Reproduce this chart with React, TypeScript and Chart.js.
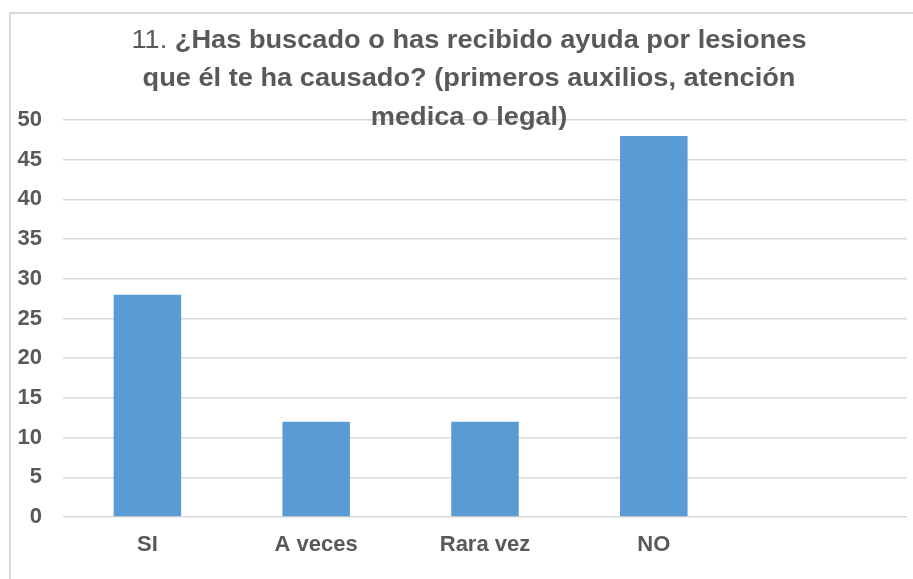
import React, { useEffect, useRef } from "react";
import { Chart, registerables } from "chart.js";

Chart.register(...registerables);

const categories = ["SI", "A veces", "Rara vez", "NO", ""];
const values = [28, 12, 12, 48, null];
const titlePrefix = "11. ";
const titleLines = [
  "¿Has buscado o has recibido ayuda por lesiones",
  "que él te ha causado? (primeros auxilios, atención",
  "medica o legal)",
];

const GRAY = "#595959";
const TITLE_FONT = '"Liberation Sans", Arial, sans-serif';
const TITLE_SIZE = 26;
const TITLE_WIDTH = 675;

const framePlugin = {
  id: "frame",
  beforeDraw(chart: any) {
    const ctx = chart.ctx;
    ctx.save();
    ctx.fillStyle = "#ffffff";
    ctx.fillRect(0, 0, chart.width, chart.height);
    ctx.strokeStyle = "#d9d9d9";
    ctx.lineWidth = 2;
    ctx.beginPath();
    ctx.moveTo(10, chart.height + 2);
    ctx.lineTo(10, 13);
    ctx.lineTo(chart.width + 2, 13);
    ctx.stroke();
    ctx.restore();
  },
  afterDraw(chart: any) {
    const ctx = chart.ctx;
    ctx.save();
    ctx.fillStyle = GRAY;
    ctx.textBaseline = "alphabetic";
    const cx = 469;
    const baselines = [48, 86, 125];
    const reg = `${TITLE_SIZE}px ${TITLE_FONT}`;
    const bold = `bold ${TITLE_SIZE}px ${TITLE_FONT}`;
    ctx.font = reg;
    const wp = ctx.measureText(titlePrefix).width;
    ctx.font = bold;
    const w0 = ctx.measureText(titleLines[0]).width;
    const sx = TITLE_WIDTH / (wp + w0);
    titleLines.forEach((line, i) => {
      ctx.save();
      ctx.translate(cx, baselines[i]);
      ctx.scale(sx, 1);
      if (i === 0) {
        const x0 = -(wp + w0) / 2;
        ctx.textAlign = "left";
        ctx.font = reg;
        ctx.fillText(titlePrefix, x0, 0);
        ctx.font = bold;
        ctx.fillText(line, x0 + wp, 0);
      } else {
        ctx.textAlign = "center";
        ctx.font = bold;
        ctx.fillText(line, 0, 0);
      }
      ctx.restore();
    });
    ctx.restore();
  },
};

export default function App() {
  const ref = useRef<HTMLCanvasElement | null>(null);
  useEffect(() => {
    document.body.style.margin = "0";
    const chart = new Chart(ref.current as HTMLCanvasElement, {
      type: "bar",
      data: {
        labels: categories,
        datasets: [
          {
            data: values as any,
            backgroundColor: "#5b9bd5",
            categoryPercentage: 1,
            barPercentage: 0.4,
          },
        ],
      },
      options: {
        responsive: false,
        animation: false,
        layout: { padding: { top: 120, right: 6, left: 0, bottom: 0 } },
        plugins: { legend: { display: false }, tooltip: { enabled: false }, title: { display: false } },
        scales: {
          x: {
            grid: { display: false, drawTicks: false },
            border: { display: false },
            ticks: {
              color: GRAY,
              font: { family: '"Liberation Sans", Arial, sans-serif', size: 22, weight: "bold" },
              padding: 15,
              maxRotation: 0,
            },
            afterFit: (s: any) => {
              s.height = 62;
            },
          },
          y: {
            min: 0,
            max: 50,
            ticks: {
              stepSize: 5,
              color: GRAY,
              font: { family: '"Liberation Sans", Arial, sans-serif', size: 22, weight: "bold" },
              padding: 21,
            },
            grid: { color: "#d9d9d9", lineWidth: 1.5, drawTicks: false },
            border: { display: false },
            afterFit: (s: any) => {
              s.width = 63;
            },
          },
        },
      },
      plugins: [framePlugin],
    });
    return () => chart.destroy();
  }, []);
  return (
    <div style={{ width: 913, height: 579 }}>
      <canvas ref={ref} width={913} height={579} style={{ display: "block" }} />
    </div>
  );
}
